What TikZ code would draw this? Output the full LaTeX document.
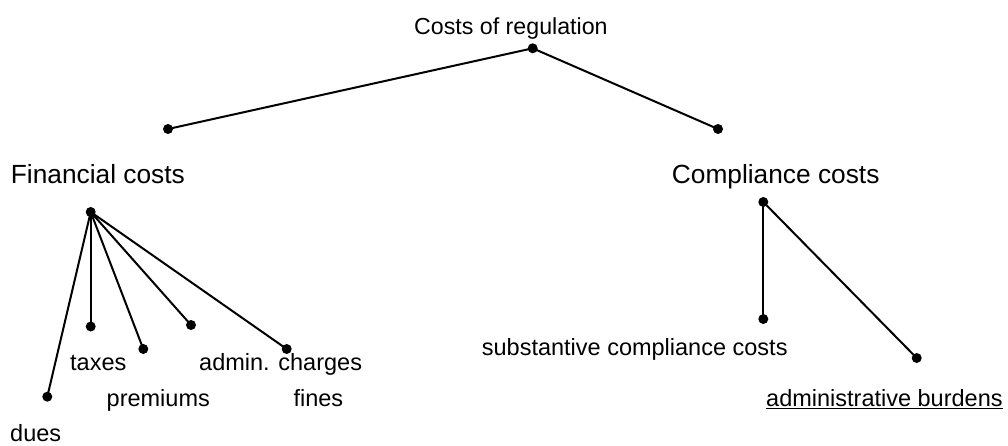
\documentclass[tikz,border=0pt]{standalone}
\usepackage{fontspec}
\setmainfont{Liberation Sans}
\begin{document}
\begin{tikzpicture}[x=1pt,y=-1pt,
  dot/.style={circle,fill=black,inner sep=0pt,minimum size=10pt},
  link/.style={line width=2pt},
  toplabel/.style={anchor=base west,inner sep=0pt,font=\fontsize{23.2}{28}\selectfont},
  midlabel/.style={anchor=base west,inner sep=0pt,font=\fontsize{26.3}{31}\selectfont},
  leaflabel/.style={anchor=base west,inner sep=0pt,font=\fontsize{23.5}{28}\selectfont}]
\useasboundingbox (0,0) rectangle (1008,446);
% labels
\node[toplabel] (tRoot) at (414,35) {Costs of regulation};
\node[midlabel] (tFin) at (10.7,183.3) {Financial costs};
\node[midlabel] (tComp) at (671.7,183.3) {Compliance costs};
\node[leaflabel] (tTax) at (70,370.7) {taxes};
\node[leaflabel] (tPrem) at (106.5,406.7) {premiums};
\node[leaflabel] (tDues) at (10,441.5) {dues};
\node[leaflabel] (tAdm) at (199,370.5) {admin. charges};
\node[leaflabel] (tFines) at (293.3,406.7) {fines};
\node[leaflabel] (tSub) at (481.7,355.5) {substantive compliance costs};
\node[leaflabel] (tBur) at (766,406.7) {\underline{administrative burdens}};
% dots
\node[dot] (root) at (532.7,48.3) {};
\node[dot] (fin) at (168,129) {};
\node[dot] (comp) at (718,129) {};
\node[dot] (finhub) at (90.7,212) {};
\node[dot] (taxes) at (90.7,326.5) {};
\node[dot] (prem) at (143.3,349) {};
\node[dot] (adm) at (191,325) {};
\node[dot] (fines) at (286.7,349) {};
\node[dot] (dues) at (47.3,396.7) {};
\node[dot] (comphub) at (763.3,202) {};
\node[dot] (sub) at (763.3,319) {};
\node[dot] (bur) at (916.7,358) {};
% connectors
\draw[link] (root.center) -- (fin.center);
\draw[link] (root.center) -- (comp.center);
\foreach \c in {taxes,prem,adm,fines,dues}
  \draw[link] (finhub.center) -- (\c.center);
\draw[link] (comphub.center) -- (sub.center);
\draw[link] (comphub.center) -- (bur.center);
\end{tikzpicture}
\end{document}
